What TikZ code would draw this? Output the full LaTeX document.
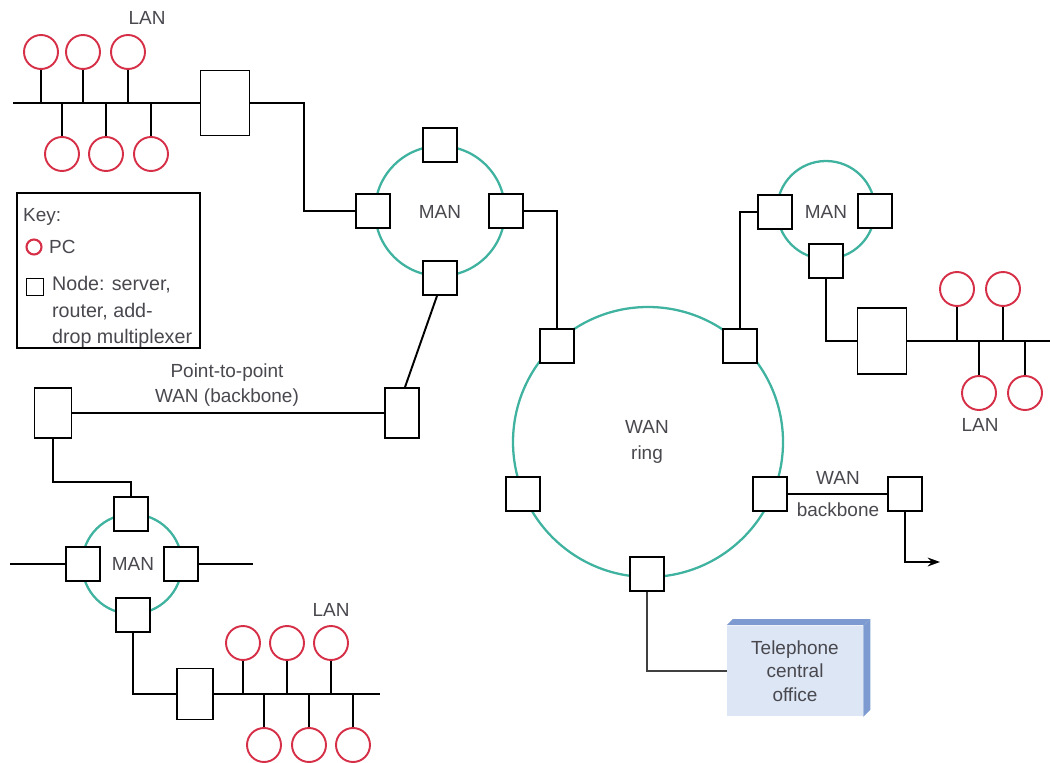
\documentclass[tikz,border=0pt]{standalone}
\usepackage{fontspec}
\setmainfont{Liberation Sans}
\usetikzlibrary{positioning, calc, arrows.meta}
\definecolor{ringteal}{RGB}{64, 178, 160}
\definecolor{pcred}{RGB}{214, 48, 72}
\definecolor{textgray}{RGB}{72, 72, 78}
\definecolor{officeblue}{RGB}{221, 230, 245}
\definecolor{officeedge}{RGB}{125, 155, 208}
\tikzset{
    netnode/.style={rectangle, draw, fill=white, line width=1pt, minimum width=0.68cm, minimum height=0.68cm, inner sep=0pt},
    pc/.style={circle, draw=pcred, line width=1.1pt, minimum size=0.68cm, inner sep=0pt},
    ringline/.style={draw=ringteal, line width=1.3pt},
    wire/.style={draw, line width=1.1pt},
    lbl/.style={font=\fontsize{10.8}{14.5}\selectfont, text=textgray, align=center, inner sep=1pt}
}
\begin{document}
\begin{tikzpicture}[x=0.02cm, y=-0.02cm]
    \useasboundingbox (0,0) rectangle (1050,763);

    % Rings
    \draw[ringline] (440,211) circle[radius=65];
    \draw[ringline] (826,210) circle[radius=49];
    \draw[ringline] (132,564) circle[radius=50];
    \draw[ringline] (648,442) circle[radius=135];

    % Ring nodes
    \node[netnode] (m1n) at (440,145) {};
    \node[netnode] (m1w) at (373,211) {};
    \node[netnode] (m1e) at (506,211) {};
    \node[netnode] (m1s) at (440,278) {};
    \node[netnode] (m2w) at (775,212) {};
    \node[netnode] (m2e) at (875,211) {};
    \node[netnode] (m2s) at (826,261) {};
    \node[netnode] (m3n) at (131,514) {};
    \node[netnode] (m3w) at (83,564) {};
    \node[netnode] (m3e) at (181,564) {};
    \node[netnode] (m3s) at (133,615) {};
    \node[netnode] (wnw) at (557,346) {};
    \node[netnode] (wne) at (740,346) {};
    \node[netnode] (ww) at (523,494) {};
    \node[netnode] (we) at (770,494) {};
    \node[netnode] (ws) at (647,574) {};

    % Routers and backbone nodes
    \node[netnode, minimum width=0.98cm, minimum height=1.3cm] (r1) at (225,103) {};
    \node[netnode, minimum width=0.98cm, minimum height=1.32cm] (r2) at (882,341) {};
    \node[netnode, minimum width=0.72cm, minimum height=1.02cm] (r3) at (195,694) {};
    \node[netnode, minimum width=0.74cm, minimum height=1cm] (p1) at (53,413) {};
    \node[netnode, minimum width=0.68cm, minimum height=1cm] (p2) at (402,413) {};
    \node[netnode] (bb) at (905,494) {};

    % Telephone central office
    \node[fill=officeblue, minimum width=2.72cm, minimum height=1.82cm, lbl,
          font=\fontsize{10.8}{13.4}\selectfont] (office) at (795,671) {Telephone\\central\\office};
    \fill[officeedge] (office.north west) -- ++(6,-6) -- ($(office.north east)+(7,-6)$) -- (office.north east) -- cycle;
    \fill[officeedge] (office.north east) -- ++(7,-6) -- ($(office.south east)+(7,-7)$) -- (office.south east) -- cycle;

    % Bus ends and bends
    \coordinate (bus1) at (13,103);
    \coordinate (bus2) at (1050,341);
    \coordinate (bus3) at (380,694);
    \coordinate (k1) at (304,211);
    \coordinate (k2) at (92,482);
    \coordinate (m3wend) at (10,564);
    \coordinate (m3eend) at (253,564);
    \coordinate (bbend) at (940,562);

    % Connectors
    \draw[wire] (bus1) -- (r1.west);
    \draw[wire] (r1.east) -| (k1) -- (m1w.west);
    \draw[wire] (m1e.east) -| (wnw.north);
    \draw[wire] (wne.north) |- (m2w.west);
    \draw[wire] (m2s.south) |- (r2.west);
    \draw[wire] (r2.east) -- (bus2);
    \draw[wire] ($(m1s.south)+(-3,0)$) -- ($(p2.north)+(3,0)$);
    \draw[wire] (p1.east) -- (p2.west);
    \draw[wire] (p1.south) |- (k2) -| (m3n.north);
    \draw[wire] (m3wend) -- (m3w.west);
    \draw[wire] (m3e.east) -- (m3eend);
    \draw[wire] (m3s.south) |- (r3.west);
    \draw[wire] (r3.east) -- (bus3);
    \draw[wire] (we.east) -- (bb.west);
    \draw[wire, -{Stealth[length=7pt, width=5pt]}] (bb.south) |- (bbend);
    \draw[wire, draw=black!75] (ws.south) |- (office.west);

    % LAN top left
    \foreach \i/\x in {1/41, 2/83, 3/128} {
        \node[pc] (la\i) at (\x,52) {};
        \draw[wire] (la\i.south) -- (la\i.south |- r1.east);
    }
    \foreach \i/\x in {1/62, 2/106, 3/151} {
        \node[pc] (lb\i) at (\x,154) {};
        \draw[wire] (lb\i.north) -- (lb\i.north |- r1.east);
    }
    % LAN right
    \foreach \i/\x in {1/957, 2/1003} {
        \node[pc] (ra\i) at (\x,289) {};
        \draw[wire] (ra\i.south) -- (ra\i.south |- r2.east);
    }
    \foreach \i/\x in {1/979, 2/1025} {
        \node[pc] (rb\i) at (\x,393) {};
        \draw[wire] (rb\i.north) -- (rb\i.north |- r2.east);
    }
    % LAN bottom
    \foreach \i/\x in {1/243, 2/287, 3/331} {
        \node[pc] (ba\i) at (\x,643) {};
        \draw[wire] (ba\i.south) -- (ba\i.south |- r3.east);
    }
    \foreach \i/\x in {1/264, 2/309, 3/353} {
        \node[pc] (bb\i) at (\x,745) {};
        \draw[wire] (bb\i.north) -- (bb\i.north |- r3.east);
    }

    % Labels
    \node[lbl] (lan1) at (147,18) {LAN};
    \node[lbl] (lan2) at (980,425) {LAN};
    \node[lbl] (lan3) at (331,610) {LAN};
    \node[lbl] (man1) at (440,212) {MAN};
    \node[lbl] (man2) at (826,212) {MAN};
    \node[lbl] (man3) at (133,564) {MAN};
    \node[lbl] (wanring) at (647,442) {WAN\\ring};
    \node[lbl] (ptp) at (227,385) {Point-to-point\\WAN (backbone)};
    \node[lbl] (wanbb) at (838,478) {WAN};
    \node[lbl] (bbtext) at (838,510) {backbone};

    % Key
    \node[draw, line width=1pt, minimum width=3.66cm, minimum height=3.1cm] (key) at (108.5,270.5) {};
    \node[lbl, anchor=west] (keytitle) at (21,217) {Key:};
    \node[circle, draw=pcred, line width=1.2pt, minimum size=0.3cm, inner sep=0pt] (keypc) at (34,247) {};
    \node[lbl, anchor=west] (keypctext) at (47,247) {PC};
    \node[rectangle, draw, line width=1pt, minimum size=0.34cm, inner sep=0pt] (keynode) at (35,287) {};
    \node[lbl, anchor=west, align=left, font=\fontsize{11.2}{15}\selectfont] (keynodetext) at (50,312)
        {Node: server,\\router, add-\\drop multiplexer};
\end{tikzpicture}
\end{document}
